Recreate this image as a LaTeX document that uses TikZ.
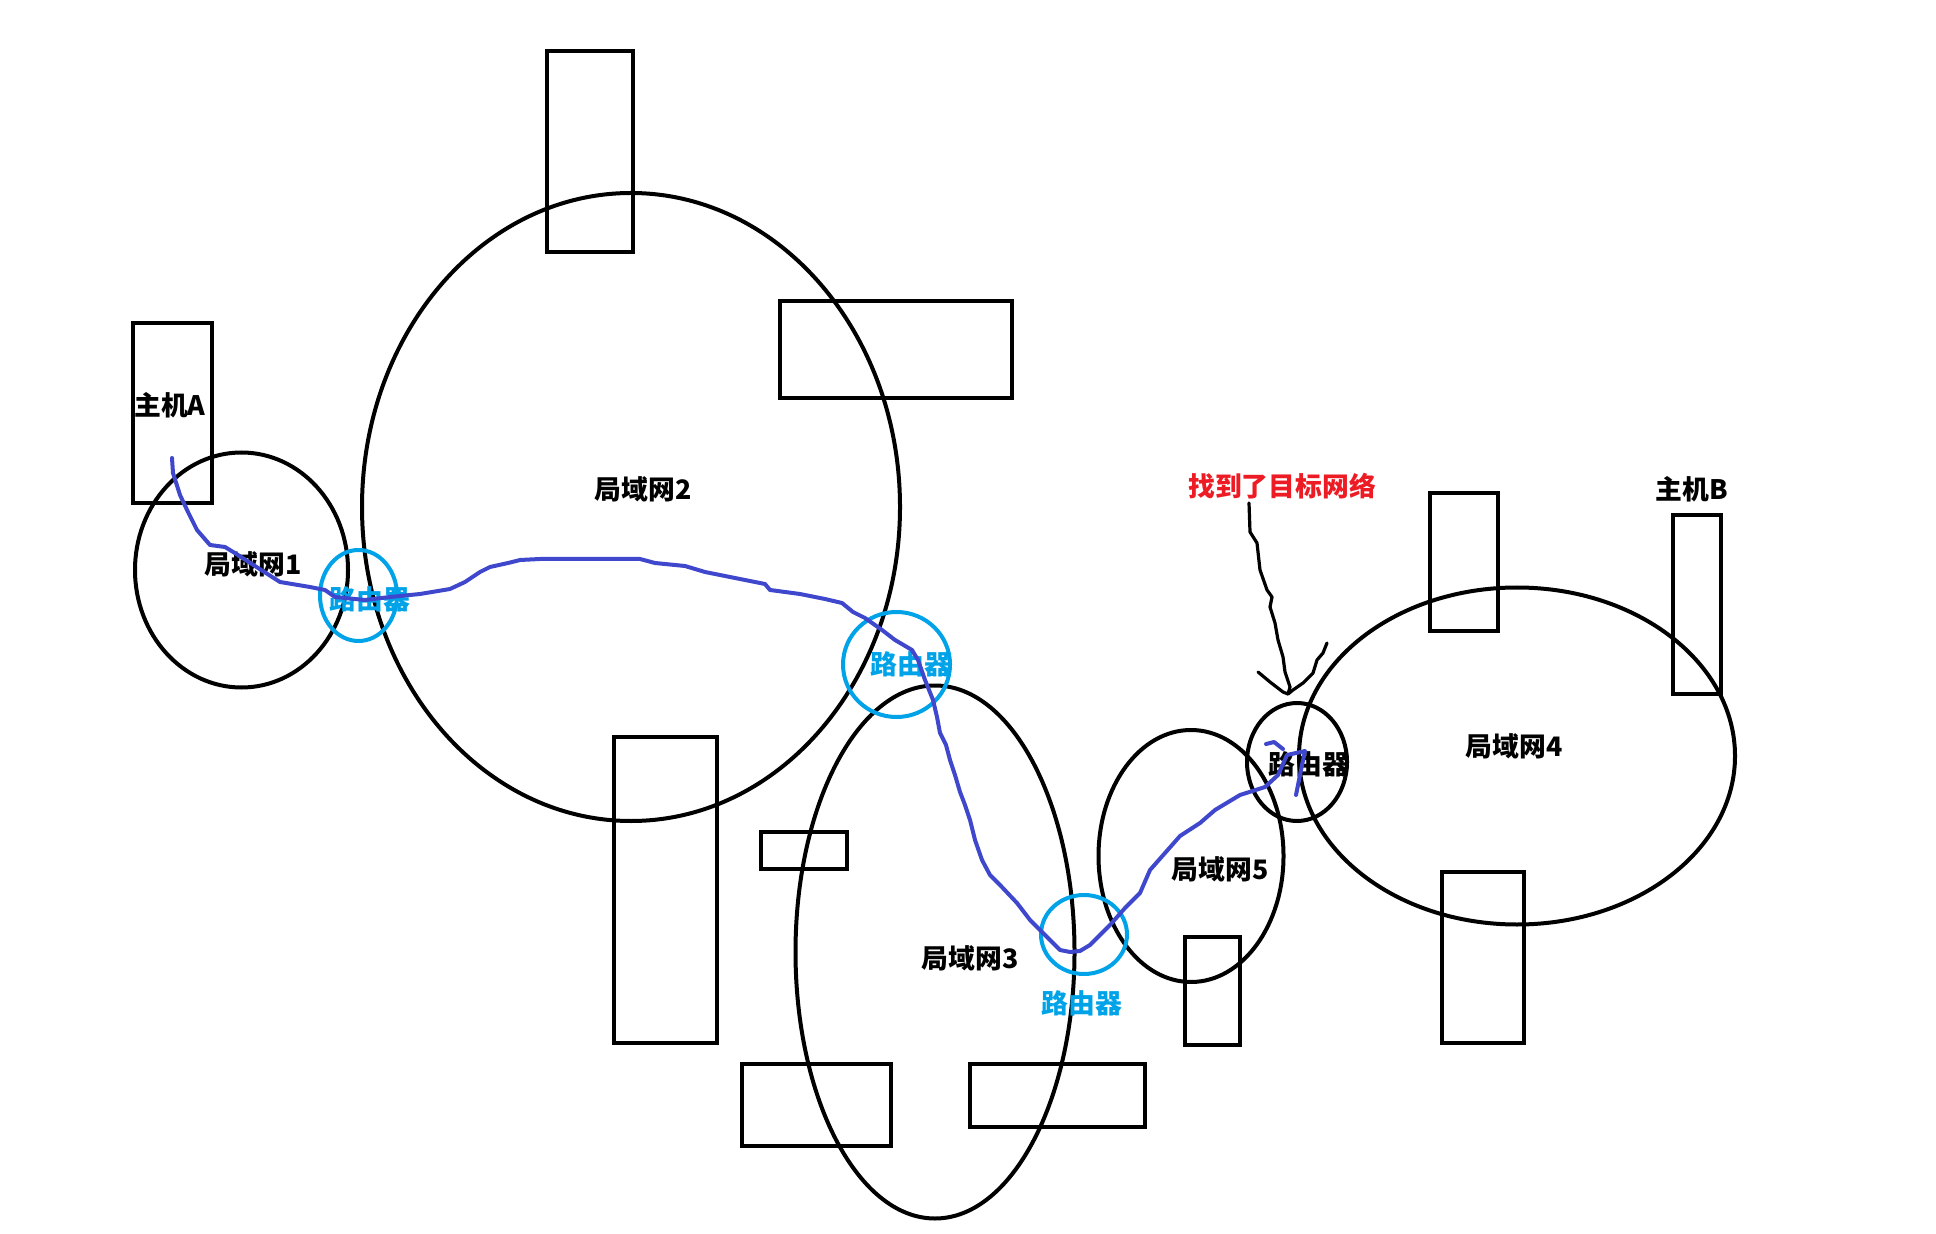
\documentclass[tikz,border=0pt]{standalone}
\usepackage{fontspec}
\setmainfont{Noto Sans CJK SC}
\usepackage{tikz}
\usetikzlibrary{shapes.geometric,positioning}
\definecolor{pathblue}{RGB}{63,72,204}
\definecolor{routerblue}{RGB}{0,162,232}
\definecolor{notered}{RGB}{237,28,36}

\begin{document}
\begin{tikzpicture}[
    x=0.5pt, y=-0.5pt,
    lan/.style={ellipse, draw=black, line width=2pt, inner sep=0pt},
    rtr/.style={ellipse, draw=routerblue, line width=2pt, inner sep=0pt},
    box/.style={rectangle, draw=black, line width=2pt, inner sep=0pt},
    lbl/.style={font=\fontsize{13.4}{15}\selectfont\bfseries, inner sep=0pt},
    rlbl/.style={lbl, text=routerblue},
    route/.style={draw=pathblue, line width=2pt, line join=round, line cap=round},
    scrib/.style={draw=black, line width=1.6pt, line join=round, line cap=round}
]
\useasboundingbox (0,0) rectangle (1936,1234);

% LANs
\node[lan, minimum width=213pt*0.5, minimum height=235pt*0.5] (lan1) at (241.5,570) {};
\node[lan, minimum width=538pt*0.5, minimum height=628pt*0.5] (lan2) at (631,507) {};
\node[lan, minimum width=279pt*0.5, minimum height=533pt*0.5] (lan3) at (935,952) {};
\node[lan, minimum width=185pt*0.5, minimum height=252pt*0.5] (lan5) at (1191,856) {};
\node[lan, minimum width=436pt*0.5, minimum height=337pt*0.5] (lan4) at (1517,756) {};
\node[lan, minimum width=100pt*0.5, minimum height=118pt*0.5] (rt4) at (1297,762) {};

% Routers
\node[rtr, minimum width=77pt*0.5, minimum height=91pt*0.5] (rt1) at (358.5,595.5) {};
\node[rtr, minimum width=107pt*0.5, minimum height=105pt*0.5] (rt2) at (896.5,664.5) {};
\node[rtr, minimum width=86pt*0.5, minimum height=79pt*0.5] (rt3) at (1084,934.5) {};

% Hosts / boxes: name/cx/cy/w/h
\foreach \n/\cx/\cy/\w/\h in {hostA/172.5/413/79/180, b1/590/151.5/86/201,
    b2/896/349.5/232/97, b3/665.5/890/103/306, b4/804/850.5/86/37,
    b5/816.5/1105/149/82, b6/1057.5/1095.5/175/63, b7/1212.5/991/55/108,
    b8/1464/562/68/138, b9/1483/957.5/82/171, hostB/1697/604.5/48/179} {
    \node[box, minimum width=\w*0.5pt, minimum height=\h*0.5pt] (\n) at (\cx,\cy) {};
}

% Labels
\node[lbl] (tA) at (170,405) {主机A};
\node[lbl] (tB) at (1692,489) {主机B};
\node[lbl] (t1) at (253,564) {局域网1};
\node[lbl] (t2) at (643,489) {局域网2};
\node[lbl] (t3) at (970,958) {局域网3};
\node[lbl] (t4) at (1514,746) {局域网4};
\node[lbl] (t5) at (1220,869) {局域网5};
\node[rlbl] (r1) at (370,599) {路由器};
\node[rlbl] (r2) at (911,664) {路由器};
\node[rlbl] (r3) at (1082,1003) {路由器};
\node[lbl] (r4) at (1309,764) {路由器};
\node[lbl, text=notered] (note) at (1282,486) {找到了目标网络};

% Route from host A to the target network
\coordinate (start) at (172,458);
\coordinate (goal) at (1296,795);
\path[route] (start) -- (173,473) -- (180,495) -- (188,512) -- (197,530) -- (210,545)
    -- (225,547) -- (238,555) -- (255,566) -- (280,582) -- (310,587) -- (325,590)
    -- (335,597) -- (365,600) -- (390,597) -- (420,594) -- (450,589) -- (465,582)
    -- (480,572) -- (490,567) -- (508,563) -- (520,560) -- (540,559) -- (640,559)
    -- (655,563) -- (685,566) -- (705,572) -- (730,577) -- (750,581) -- (765,584)
    -- (770,590) -- (800,594) -- (825,599) -- (842,603) -- (853,612) -- (865,618)
    -- (882,630) -- (895,640) -- (912,650) -- (918,660) -- (925,680) -- (933,700)
    -- (937,717) -- (940,733) -- (946,745) -- (950,760) -- (955,775) -- (960,792)
    -- (965,805) -- (970,820) -- (975,840) -- (982,860) -- (990,875) -- (1000,885)
    -- (1017,903) -- (1030,920) -- (1045,935) -- (1060,950) -- (1070,952) -- (1080,951)
    -- (1090,945) -- (1100,935) -- (1110,925) -- (1125,908) -- (1140,893) -- (1150,870)
    -- (1165,853) -- (1180,836) -- (1200,823) -- (1215,810) -- (1240,795) -- (1265,787)
    -- (1278,775) -- (1287,755) -- (1305,751) -- (1302,765) -- (goal);
\path[route] (1266,744) -- (1274,742) -- (1283,749);

% Arrow to the router
\coordinate (noteEnd) at (1249,503);
\coordinate (tip) at (1288,694);
\path[scrib] (noteEnd) -- (1250,532) -- (1257,543) -- (1260,570) -- (1267,590)
    -- (1272,597) -- (1270,607) -- (1275,623) -- (1278,640) -- (1283,657)
    -- (1285,672) -- (1290,687) -- (tip);
\path[scrib] (1258,672) -- (1270,682) -- (1283,692) -- (tip);
\path[scrib] (1327,643) -- (1323,653) -- (1317,660) -- (1313,673) -- (1303,683)
    -- (1293,690) -- (tip);
\end{tikzpicture}
\end{document}
